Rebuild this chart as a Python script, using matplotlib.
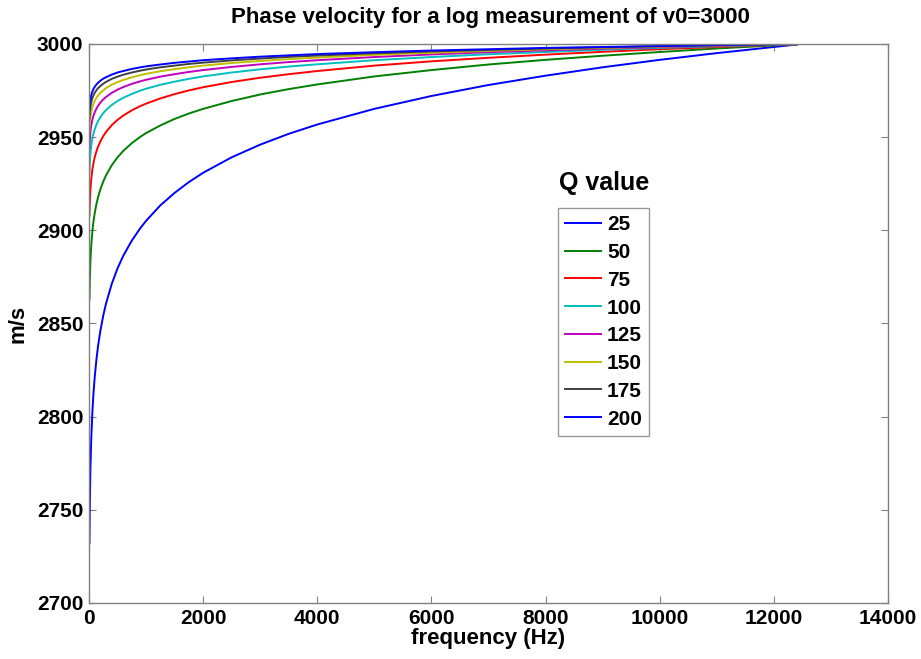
import numpy as np
import matplotlib
matplotlib.use("Agg")
import matplotlib.pyplot as plt

# frequency samples (Hz)
freq = [8, 15, 25, 40, 60, 80, 100, 130, 160, 200, 250, 300, 400, 500, 600, 750, 900,
        1000, 1250, 1500, 1750, 2000, 2500, 3000, 3500, 4000, 5000, 6000, 7000, 8000,
        9000, 10000, 11000, 12000, 12400]

# phase velocity (m/s) per Q value
v_q25 = [2732.0, 2753.9, 2771.9, 2788.5, 2802.9, 2813.2, 2821.2, 2830.6, 2838.2, 2846.2, 2854.3, 2860.9,
         2871.4, 2879.6, 2886.3, 2894.5, 2901.2, 2905.1, 2913.4, 2920.1, 2925.9, 2930.9, 2939.2, 2946.0,
         2951.8, 2956.8, 2965.2, 2972.1, 2978.0, 2983.0, 2987.5, 2991.5, 2995.1, 2998.4, 2999.7]
v_q50 = [2862.8, 2874.3, 2883.6, 2892.3, 2899.8, 2905.1, 2909.2, 2914.1, 2917.9, 2922.1, 2926.2, 2929.6,
         2935.0, 2939.2, 2942.6, 2946.8, 2950.2, 2952.2, 2956.3, 2959.8, 2962.7, 2965.2, 2969.4, 2972.9,
         2975.8, 2978.3, 2982.6, 2986.0, 2989.0, 2991.5, 2993.7, 2995.7, 2997.6, 2999.2, 2999.8]
v_q75 = [2907.8, 2915.6, 2921.9, 2927.8, 2932.8, 2936.4, 2939.2, 2942.4, 2945.0, 2947.8, 2950.6, 2952.9,
         2956.5, 2959.3, 2961.6, 2964.4, 2966.7, 2968.0, 2970.8, 2973.1, 2975.1, 2976.8, 2979.6, 2981.9,
         2983.8, 2985.5, 2988.4, 2990.7, 2992.6, 2994.3, 2995.8, 2997.2, 2998.4, 2999.5, 2999.9]
v_q100 = [2930.6, 2936.5, 2941.2, 2945.6, 2949.5, 2952.1, 2954.2, 2956.7, 2958.7, 2960.8, 2962.9, 2964.6,
          2967.3, 2969.4, 2971.1, 2973.2, 2975.0, 2976.0, 2978.1, 2979.8, 2981.3, 2982.6, 2984.7, 2986.4,
          2987.9, 2989.1, 2991.3, 2993.0, 2994.5, 2995.7, 2996.9, 2997.9, 2998.8, 2999.6, 2999.9]
v_q125 = [2944.3, 2949.1, 2952.9, 2956.4, 2959.5, 2961.7, 2963.3, 2965.3, 2966.9, 2968.6, 2970.3, 2971.6,
          2973.8, 2975.5, 2976.9, 2978.6, 2980.0, 2980.8, 2982.5, 2983.8, 2985.0, 2986.0, 2987.7, 2989.1,
          2990.3, 2991.3, 2993.0, 2994.4, 2995.6, 2996.6, 2997.5, 2998.3, 2999.0, 2999.7, 2999.9]
v_q150 = [2953.5, 2957.5, 2960.7, 2963.7, 2966.2, 2968.0, 2969.4, 2971.1, 2972.4, 2973.8, 2975.1, 2976.4,
          2978.2, 2979.6, 2980.7, 2982.1, 2983.3, 2984.0, 2985.4, 2986.5, 2987.5, 2988.4, 2989.8, 2990.9,
          2991.9, 2992.7, 2994.2, 2995.3, 2996.3, 2997.2, 2997.9, 2998.6, 2999.2, 2999.7, 2999.9]
v_q175 = [2960.1, 2963.5, 2966.3, 2968.8, 2971.0, 2972.6, 2973.8, 2975.2, 2976.3, 2977.5, 2978.7, 2979.7,
          2981.3, 2982.5, 2983.5, 2984.7, 2985.7, 2986.3, 2987.5, 2988.4, 2989.3, 2990.0, 2991.2, 2992.2,
          2993.1, 2993.8, 2995.0, 2996.0, 2996.8, 2997.6, 2998.2, 2998.8, 2999.3, 2999.8, 2999.9]
v_q200 = [2965.1, 2968.1, 2970.5, 2972.7, 2974.6, 2976.0, 2977.0, 2978.3, 2979.2, 2980.3, 2981.4, 2982.2,
          2983.6, 2984.7, 2985.5, 2986.6, 2987.5, 2988.0, 2989.0, 2989.9, 2990.6, 2991.3, 2992.3, 2993.2,
          2993.9, 2994.6, 2995.6, 2996.5, 2997.2, 2997.9, 2998.4, 2998.9, 2999.4, 2999.8, 2999.9]

q_labels = ["25", "50", "75", "100", "125", "150", "175", "200"]
series = [v_q25, v_q50, v_q75, v_q100, v_q125, v_q150, v_q175, v_q200]
# old matlab colour order, wraps back to blue
colors = [(0, 0, 1), (0, 0.5, 0), (1, 0, 0), (0, 0.75, 0.75),
          (0.75, 0, 0.75), (0.75, 0.75, 0), (0.25, 0.25, 0.25), (0, 0, 1)]

plt.rcParams['font.family'] = ['Liberation Sans', 'DejaVu Sans']
plt.rcParams['font.weight'] = 'bold'

fig = plt.figure(figsize=(9.21, 6.59), dpi=100)
W, H = 921, 659
ax = fig.add_axes([89 / W, 1 - 603 / H, (888 - 89) / W, (603 - 44) / H])

for v, c, lab in zip(series, colors, q_labels):
    ax.plot(freq, v, color=c, lw=1.4, label=lab)

ax.set_xlim(0, 14000)
ax.set_ylim(2700, 3000)
ax.set_xticks(np.arange(0, 14001, 2000))
ax.set_yticks(np.arange(2700, 3001, 50))
ax.tick_params(direction='in', length=5, color='#808080', labelsize=15,
               top=True, right=True, pad=4)
for lbl in ax.get_xticklabels() + ax.get_yticklabels():
    lbl.set_fontweight('bold')
for s in ax.spines.values():
    s.set_color('#808080')
    s.set_linewidth(1)

fig.text(490 / W, 1 - 17 / H, "Phase velocity for a log measurement of v0=3000",
         fontsize=16, fontweight='bold', ha='center', va='center')
ax.set_xlabel("frequency (Hz)", fontsize=16, fontweight='bold', labelpad=0)
ax.set_ylabel("m/s", fontsize=16, fontweight='bold', labelpad=6)

leg = ax.legend(loc='upper left', bbox_to_anchor=(558 / W, 1 - 208 / H),
                bbox_transform=fig.transFigure, fontsize=15, frameon=True,
                fancybox=False, edgecolor='#808080', handlelength=1.7,
                labelspacing=0.42, borderpad=0.35, handletextpad=0.3,
                borderaxespad=0)
leg.get_frame().set_linewidth(1)
for t in leg.get_texts():
    t.set_fontweight('bold')

fig.text(604 / W, 1 - 183 / H, "Q value", fontsize=18, fontweight='bold',
         ha='center', va='center')

fig.savefig("out.png", dpi=100)
